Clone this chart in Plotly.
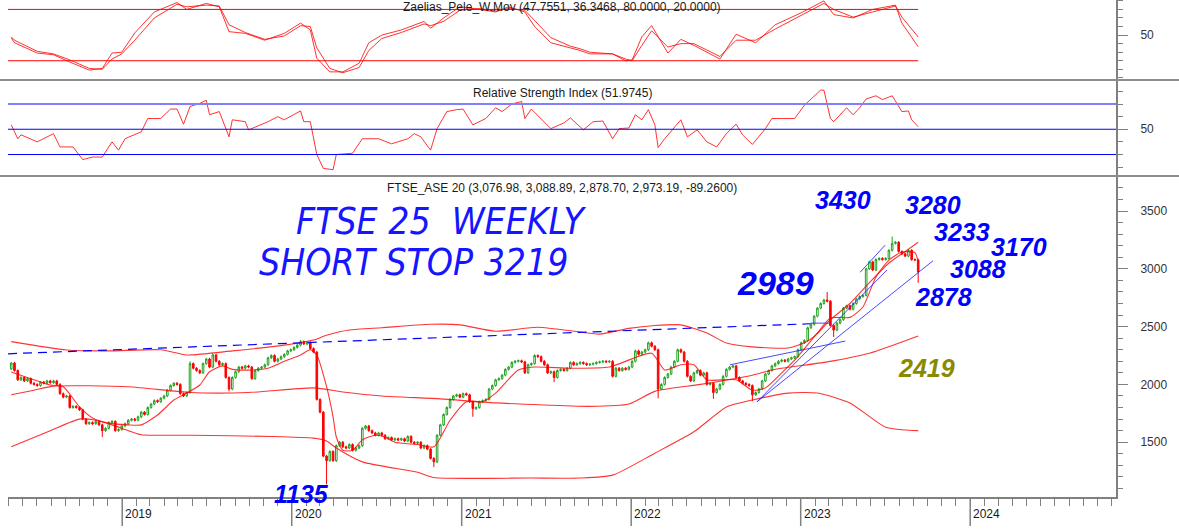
import pandas as pd
import plotly.graph_objects as go

# ---------------- data ----------------
closes = [
    2185, 2120, 2040, 2060, 2030, 2050, 2010, 2000, 1990, 2020,
    2010, 2030, 2015, 2030, 2000, 1920, 1890, 1900, 1800, 1810,
    1800, 1780, 1700, 1660, 1670, 1660, 1680, 1650, 1600, 1620,
    1670, 1680, 1600, 1610, 1640, 1660, 1690, 1700, 1690, 1720,
    1760, 1740, 1800, 1830, 1860, 1850, 1880, 1900, 1950, 1990,
    2010, 2000, 1920, 1900, 1930, 2180, 2140, 2120, 2100, 2180,
    2220, 2150, 2255, 2200, 2170, 2180, 2060, 1960, 2060, 2110,
    2150, 2140, 2160, 2150, 2050, 2120, 2140, 2150, 2170, 2230,
    2250, 2200, 2220, 2240, 2260, 2290, 2300, 2320, 2340, 2370,
    2350, 2360, 2310, 2280, 1870, 1760, 1380, 1340, 1420, 1340,
    1470, 1500, 1460, 1450, 1480, 1430, 1450, 1470, 1620, 1640,
    1600, 1580, 1560, 1580, 1560, 1530, 1540, 1520, 1530, 1520,
    1530, 1510, 1550, 1500, 1490, 1500, 1450, 1470, 1440, 1360,
    1330, 1560, 1650, 1740, 1800, 1870, 1900, 1910, 1890, 1920,
    1910, 1850, 1790, 1800, 1850, 1860, 1870, 1960, 1990, 2040,
    2050, 2080, 2130, 2150, 2190, 2200, 2205, 2195, 2100, 2170,
    2180, 2250, 2240, 2200, 2170, 2100, 2110, 2060, 2120, 2130,
    2120, 2140, 2190, 2170, 2180, 2190, 2180, 2170, 2175, 2180,
    2190, 2195, 2200, 2195, 2200, 2070, 2140, 2120, 2140, 2130,
    2150, 2200, 2290, 2260, 2280, 2300, 2360, 2330, 2300, 1960,
    2000, 2060, 2090, 2150, 2200, 2300, 2280, 2200, 2070, 2030,
    2100, 2120, 2080, 2100, 2000, 2010, 1930, 1960, 2000, 2070,
    2130, 2150, 2160, 2060, 2030, 2010, 2000, 1990, 1910, 1930,
    1960, 2030, 2090, 2120, 2160, 2180, 2200, 2210, 2200, 2220,
    2230, 2240, 2300, 2360, 2380, 2490, 2520, 2590, 2660, 2700,
    2730, 2720, 2510, 2470, 2530, 2560, 2660, 2680, 2650, 2700,
    2740, 2760, 2770, 3000, 3060, 2990, 3080, 3090, 3080, 3090,
    3160, 3220, 3230, 3150, 3130, 3110, 3160, 3080, 3077, 2973.19,
]
first_open = 2135
last_ohlc = [3076.98, 3088.89, 2878.70, 2973.19]
high_wicks = {55: 2200, 62: 2270, 89: 2385, 251: 2800, 271: 3280}
low_wicks = {28: 1545, 67: 1940, 97: 1135, 130: 1285, 142: 1720, 167: 2020,
             199: 1880, 216: 1875, 228: 1855, 253: 2410}
wick_pad = 10

# Bollinger-type bands and short average (week index, value)
upper_wk = [0, 17, 30, 46, 54, 68, 84, 93, 97, 104, 114, 129, 138, 149, 162, 175,
            181, 190, 198, 206, 214, 220, 228, 239, 244, 248, 252, 258, 264, 270, 275, 279]
upper_val = [2370, 2298, 2290, 2300, 2255, 2290, 2340, 2385, 2425, 2470, 2490, 2520, 2515, 2460,
             2495, 2453, 2435, 2485, 2510, 2515, 2445, 2358, 2325, 2315, 2360, 2440, 2560, 2700,
             2880, 3050, 3150, 3230]
middle_wk = [0, 7, 13, 36, 55, 73, 93, 102, 114, 132, 149, 178, 190, 198, 212, 228, 234,
             251, 264, 279]
middle_val = [1910, 1950, 1985, 1980, 1930, 1930, 1970, 1935, 1900, 1875, 1840, 1810, 1830,
              1940, 2000, 2080, 2125, 2195, 2270, 2419]
lower_wk = [0, 12, 21, 26, 31, 36, 40, 55, 80, 93, 97, 100, 108, 125, 130, 160, 175, 185,
            198, 210, 220, 228, 239, 248, 258, 269, 279]
lower_val = [1460, 1600, 1700, 1690, 1650, 1600, 1565, 1560, 1550, 1535, 1510, 1450, 1330,
             1240, 1195, 1190, 1190, 1215, 1405, 1590, 1805, 1865, 1925, 1925, 1840, 1630, 1600]
ma_wk = [0, 12, 16, 21, 25, 30, 36, 40, 45, 50, 54, 58, 61, 65, 68, 74, 79, 84, 89, 92, 94,
         97, 99, 100, 102, 105, 108, 112, 115, 118, 125, 130, 135, 140, 145, 149, 156, 161,
         172, 184, 197, 201, 206, 210, 214, 223, 228, 232, 237, 241, 248, 252, 258, 262, 266,
         270, 274, 278, 279]
ma_val = [2107, 1995, 1980, 1805, 1710, 1665, 1650, 1650, 1735, 1865, 1925, 1995, 2110, 2160,
          2130, 2125, 2140, 2200, 2255, 2300, 2255, 1980, 1720, 1545, 1430, 1430, 1520, 1560,
          1545, 1500, 1480, 1460, 1690, 1850, 1850, 1925, 2125, 2150, 2140, 2150, 2270, 2125,
          2170, 2170, 2040, 2040, 1950, 1970, 2100, 2210, 2445, 2575, 2580, 2670, 2930, 3075,
          3145, 3140, 3060]

# trend lines (dates, values)
dashed_dates = ["2018-04-30", "2023-01-22"]
dashed_vals = [2265, 2525]
seg_dates = ["2023-01-22", "2023-03-05"]
seg_vals = [2530, 2530]
lineA_dates = ["2022-08-02", "2023-04-07"]
lineA_vals = [2170, 2375]
line1_dates = ["2022-09-29", "2023-07-06"]
line1_vals = [1850, 2990]
line2_dates = ["2022-09-29", "2023-10-13"]
line2_vals = [1850, 3070]
chan_dates = ["2023-05-09", "2023-07-02"]
chan_vals = [2970, 3205]

# Zaelias_Pele_W.Mov (fast / slow)
stoch_wk = [0, 1, 8, 13, 18, 24, 28, 31, 34, 38, 44, 51, 54, 60, 64, 67, 72, 78, 84, 89, 92,
            94, 98, 102, 107, 110, 114, 120, 127, 129, 133, 138, 144, 149, 153, 158, 161, 166,
            172, 175, 178, 185, 189, 191, 194, 197, 202, 206, 210, 218, 223, 229, 235, 243,
            250, 253, 259, 265, 272, 274, 279]
stoch_fast = [46.7, 41, 29, 27, 18.5, 9, 11, 29, 30, 52.5, 77, 88, 80, 87, 83, 54, 52, 44, 52,
              64, 56, 23, 7, 7, 17, 41, 50, 56, 66, 58, 70, 83, 80, 77, 83, 77, 60, 41, 35, 32,
              28, 28, 20, 21, 48, 61, 29, 45, 38, 22, 51, 41, 62, 76, 90, 74, 70, 80, 85, 64,
              36.3468]
stoch_slow = [48, 44, 31, 28, 21, 11, 10, 22, 28, 44, 70, 86, 83, 85, 84, 62, 53, 45, 49, 61,
              60, 35, 11, 6, 12, 32, 46, 53, 63, 61, 66, 79, 81, 78, 81, 79, 67, 47, 37, 34,
              30, 28, 22, 20, 38, 55, 36, 40, 40, 25, 44, 44, 57, 73, 87, 80, 71, 77, 84, 71,
              47.7551]

# Relative Strength Index
rsi_wk = [0, 2, 3, 8, 13, 15, 19, 22, 25, 28, 31, 33, 35, 40, 42, 46, 49, 51, 53, 55, 58, 60,
          61, 64, 67, 68, 72, 73, 79, 82, 84, 89, 90, 92, 94, 96, 99, 100, 105, 108, 113, 117,
          122, 124, 126, 129, 131, 134, 137, 139, 142, 146, 149, 151, 154, 157, 158, 160, 166,
          170, 172, 176, 179, 182, 185, 187, 190, 192, 194, 196, 198, 199, 201, 206, 208, 211,
          214, 217, 220, 223, 225, 228, 232, 234, 237, 241, 244, 249, 250, 252, 253, 257, 259,
          261, 263, 266, 268, 271, 274, 276, 277, 279]
rsi_val = [53.5, 42.5, 45.6, 40, 46.5, 36, 36, 26, 28, 28, 40, 33.5, 42.5, 48, 58.5, 58.5, 66,
           66, 54, 68, 70.5, 73, 61.5, 64, 44, 57.5, 56, 49.5, 56, 60, 57.5, 64.5, 56, 56, 30,
           19, 18, 30, 31, 42.5, 42.5, 38.5, 42.5, 46.5, 44, 33.5, 50.5, 64, 65.5, 66, 53.5,
           58.5, 67, 64, 70, 72, 58.5, 66, 50.5, 55, 59, 49.5, 56, 56.5, 42.5, 50.5, 51, 61.5,
           57.5, 65.5, 53.5, 35.5, 42.5, 57.5, 44, 49.5, 40, 36, 46.5, 54, 45.5, 38, 50.5,
           58.5, 58.5, 58.5, 69, 81, 81, 58.5, 56, 67, 61.5, 67, 74, 76.5, 73.5, 76.5, 64,
           64.5, 57.5, 51.9745]

years = [2019, 2020, 2021, 2022, 2023, 2024]

# ---------------- build ----------------
weeks = pd.date_range("2018-05-07", periods=len(closes), freq="7D")
opens = [first_open] + closes[:-1]
highs = [max(o, c) + wick_pad for o, c in zip(opens, closes)]
lows = [min(o, c) - wick_pad for o, c in zip(opens, closes)]
for k, v in high_wicks.items():
    highs[k] = v
for k, v in low_wicks.items():
    lows[k] = v
opens[-1], highs[-1], lows[-1], closes[-1] = last_ohlc

X0, X1 = "2018-04-30", "2024-11-10"
W, H = 1179, 529
ML, MR, MT, MB = 8, 63, 0, 32
PW, PH = W - ML - MR, H - MT - MB


def px(x):
    return (x - ML) / PW


def py(y):
    return (PH - y) / PH


def wk(idx):
    return [weeks[i] for i in idx]


RED = "rgba(255,0,0,0.8)"
BLUE = "#0000ff"
fig = go.Figure()

fig.add_trace(go.Candlestick(
    x=weeks, open=opens, high=highs, low=lows, close=closes,
    increasing=dict(line=dict(color="#22a022", width=1), fillcolor="#ffffff"),
    decreasing=dict(line=dict(color="#ff0000", width=1), fillcolor="#ff0000"),
    whiskerwidth=0, showlegend=False, hoverinfo="skip", xaxis="x", yaxis="y"))

for wks, vals in [(upper_wk, upper_val), (middle_wk, middle_val), (lower_wk, lower_val),
                  (ma_wk, ma_val)]:
    fig.add_trace(go.Scatter(x=wk(wks), y=vals, mode="lines",
                             line=dict(color=RED, width=1.1, shape="spline", smoothing=0.6),
                             showlegend=False, hoverinfo="skip", xaxis="x", yaxis="y"))

fig.add_trace(go.Scatter(x=dashed_dates, y=dashed_vals, mode="lines",
                         line=dict(color=BLUE, width=1.2, dash="9px,6px"),
                         showlegend=False, hoverinfo="skip", xaxis="x", yaxis="y"))
for d, v in [(seg_dates, seg_vals), (lineA_dates, lineA_vals), (line1_dates, line1_vals),
             (line2_dates, line2_vals), (chan_dates, chan_vals)]:
    fig.add_trace(go.Scatter(x=d, y=v, mode="lines", line=dict(color="rgba(40,40,255,0.85)", width=1),
                             showlegend=False, hoverinfo="skip", xaxis="x", yaxis="y"))

# oscillator panels
fig.add_trace(go.Scatter(x=wk(stoch_wk), y=stoch_slow, mode="lines",
                         line=dict(color=RED, width=1), showlegend=False, hoverinfo="skip",
                         xaxis="x", yaxis="y3"))
fig.add_trace(go.Scatter(x=wk(stoch_wk), y=stoch_fast, mode="lines",
                         line=dict(color=RED, width=1), showlegend=False, hoverinfo="skip",
                         xaxis="x", yaxis="y3"))
fig.add_trace(go.Scatter(x=wk(rsi_wk), y=rsi_val, mode="lines",
                         line=dict(color=RED, width=1), showlegend=False, hoverinfo="skip",
                         xaxis="x", yaxis="y2"))

shapes = []
for lvl in (80, 20):
    shapes.append(dict(type="line", xref="x", yref="y3", x0=X0, x1=weeks[-1], y0=lvl, y1=lvl,
                       line=dict(color="#ff0000", width=1)))
shapes.append(dict(type="line", xref="x", yref="y2", x0=X0, x1=X1, y0=70, y1=70,
                   line=dict(color="#8080ff", width=2)))
for lvl in (50, 30):
    shapes.append(dict(type="line", xref="x", yref="y2", x0=X0, x1=X1, y0=lvl, y1=lvl,
                       line=dict(color=BLUE, width=1)))
for ysep in (80, 176):
    shapes.append(dict(type="line", xref="paper", yref="paper", x0=px(0), x1=px(W),
                       y0=py(ysep), y1=py(ysep), line=dict(color="#8c8c8c", width=2)))
for yr in years:
    shapes.append(dict(type="line", xref="x", yref="paper", x0=f"{yr}-01-01", x1=f"{yr}-01-01",
                       y0=0, y1=py(526), line=dict(color="#808080", width=1.5)))

ann = []
TF = dict(family="Arial, Liberation Sans, sans-serif", size=12, color="#1a1a1a")
ann.append(dict(text="Zaelias_Pele_W.Mov (47.7551, 36.3468, 80.0000, 20.0000)", x=px(562), y=py(7)))
ann.append(dict(text="Relative Strength Index (51.9745)", x=px(562), y=py(93)))
ann.append(dict(text="FTSE_ASE 20 (3,076.98, 3,088.89, 2,878.70, 2,973.19, -89.2600)",
                x=px(562), y=py(188)))
for a in ann:
    a.update(xref="paper", yref="paper", showarrow=False, font=TF, xanchor="center", yanchor="middle")
for yr in years:
    ann.append(dict(text=str(yr), x=f"{yr}-01-01", xref="x", yref="paper", y=py(514),
                    xanchor="left", yanchor="middle", xshift=1, showarrow=False, font=TF))

HAND = dict(family="Liberation Sans Narrow, DejaVu Sans Condensed, Liberation Sans, sans-serif",
            size=37, color="#1515ff", style="italic")
ann.append(dict(text="FTSE 25  WEEKLY", x=px(441), y=py(221), font=HAND))
ann.append(dict(text="SHORT STOP 3219", x=px(413), y=py(262), font=HAND))

NUM = dict(family="Arial, Liberation Sans, sans-serif", size=25, color="#0000ff",
           weight="bold", style="italic")
labels = [("3430", 843, 200), ("3280", 933, 205), ("3233", 962, 232), ("3170", 1019, 247),
          ("3088", 978, 269), ("2878", 943, 297), ("1135", 301, 494)]
for t, lx, ly in labels:
    ann.append(dict(text=t, x=px(lx), y=py(ly), font=NUM))
ann.append(dict(text="2989", x=px(775), y=py(283), font=dict(NUM, size=34)))
ann.append(dict(text="2419", x=px(926), y=py(368), font=dict(NUM, color="#8a8a00")))
for a in ann[-11:]:
    a.setdefault("xref", "paper")
    a.setdefault("yref", "paper")
    a.setdefault("showarrow", False)
    a.setdefault("xanchor", "center")
    a.setdefault("yanchor", "middle")

AX = dict(showgrid=False, zeroline=False, side="right", anchor="x", showline=True,
          linecolor="#808080", linewidth=2, ticks="outside", ticklen=10, tickcolor="#808080",
          tickfont=dict(family="Arial, Liberation Sans, sans-serif", size=12, color="#333333"),
          ticklabelstandoff=10)

fig.update_layout(
    width=W, height=H, margin=dict(l=ML, r=MR, t=MT, b=MB),
    paper_bgcolor="white", plot_bgcolor="white", showlegend=False,
    xaxis=dict(type="date", range=[X0, X1], anchor="y", showgrid=False, zeroline=False,
               showline=True, linecolor="#808080", linewidth=2, ticks="outside", ticklen=7,
               tickcolor="#808080", dtick="M1", tick0="2018-01-01", showticklabels=False,
               rangeslider=dict(visible=False)),
    yaxis=dict(AX, domain=[0, py(176)], range=[1026, 3803], tickvals=[1500, 2000, 2500, 3000, 3500],
               minor=dict(dtick=100, ticks="outside", ticklen=5, tickcolor="#808080")),
    yaxis2=dict(AX, domain=[py(176), py(80)], range=[13, 89], tickvals=[50],
                minor=dict(dtick=10, ticks="outside", ticklen=5, tickcolor="#808080")),
    yaxis3=dict(AX, domain=[py(80), 1], range=[-2.5, 91], tickvals=[50],
                minor=dict(dtick=10, ticks="outside", ticklen=5, tickcolor="#808080")),
    shapes=shapes, annotations=ann,
)

fig.write_html("out.html", config={"displayModeBar": False},
               post_script="document.body.style.margin='0';document.body.style.overflow='hidden';")
